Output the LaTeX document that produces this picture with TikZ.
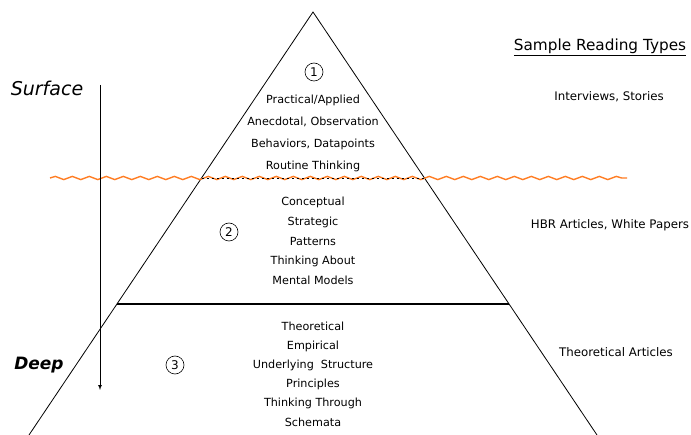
\documentclass[tikz,border=0pt]{standalone}
\usepackage{fontspec}
\setmainfont{DejaVu Sans}
\usepackage{xcolor}
\usetikzlibrary{positioning}
\usetikzlibrary{arrows}
\usetikzlibrary{math}
\usetikzlibrary{calc}
\usetikzlibrary{decorations.pathmorphing}

\definecolor{waveorange}{RGB}{255,125,35}

\begin{document}
\begin{tikzpicture}[x=1pt,y=-1pt,line width=0.8pt,
  levels/.style={align=center, inner sep=0pt},
  num/.style={draw, circle, line width=0.6pt, inner sep=0pt, minimum size=18pt,
    font=\fontsize{12}{14}\selectfont},
  reading/.style={font=\fontsize{11.8}{14}\selectfont, inner sep=0pt},
  depth/.style={font=\fontsize{19}{22}\selectfont\itshape, inner sep=0pt}]

  \tikzmath{
    \waterline = 0.392; % fraction of the edge where the surface line sits
    \midline   = 0.690; % fraction of the edge for the deep divider
  }

  \useasboundingbox (0,0) rectangle (691,435);

  % corners of the pyramid
  \coordinate (apex) at (313,12);
  \coordinate (BL) at (29,435);
  \coordinate (BR) at (597,435);

  % points on the edges
  \coordinate (WL) at ($ (apex)!\waterline!(BL) $);
  \coordinate (WR) at ($ (apex)!\waterline!(BR) $);
  \coordinate (ML) at ($ (apex)!\midline!(BL) $);
  \coordinate (MR) at ($ (apex)!\midline!(BR) $);

  % pyramid
  \draw (BL) -- (apex) -- (BR);
  \draw[line width=1.4pt] (ML) -- (MR);

  % surface of the water
  \coordinate (waveL) at (50,178);
  \coordinate (waveR) at (627,178);
  \draw[waveorange, line width=1.4pt, decorate,
    decoration={snake, segment length=17pt, amplitude=1.6pt}] (waveL) -- (waveR);
  \draw[line width=0.6pt, dash pattern=on 2.5pt off 2.5pt] (WL) -- (WR);

  % depth arrow
  \coordinate (top) at (100,85);
  \coordinate (bottom) at (100,390);
  \draw[-latex, line width=0.7pt] (top) -- (bottom);
  \node[depth] (surface) at (47,88) {Surface};
  \node[depth, font=\fontsize{17}{20}\selectfont\bfseries\itshape] (deep) at (39,365) {Deep};

  % levels of the pyramid
  \node[num] (one) at (314,72) {1};
  \node[levels, font=\fontsize{11.2}{22}\selectfont] (level1) at (313,133)
  {Practical/Applied\\Anecdotal, Observation\\Behaviors, Datapoints\\Routine Thinking};

  \node[num] (two) at (229,232) {2};
  \node[levels, font=\fontsize{11.2}{19.75}\selectfont] (level2) at (313,241)
  {Conceptual\\Strategic\\Patterns\\Thinking About\\Mental Models};

  \node[num] (three) at (175,365) {3};
  \node[levels, font=\fontsize{11.2}{19.2}\selectfont] (level3) at (313,374)
  {Theoretical\\Empirical\\Underlying~~Structure\\Principles\\Thinking Through\\Schemata};

  % sample reading types
  \node[font=\fontsize{15.3}{18}\selectfont, inner sep=0pt] (title) at (600,47)
  {\underline{Sample Reading Types}};
  \node[reading] (read1) at (609,97) {Interviews, Stories};
  \node[reading] (read2) at (610,225) {HBR Articles, White Papers};
  \node[reading] (read3) at (616,352) {Theoretical Articles};

\end{tikzpicture}
\end{document}
